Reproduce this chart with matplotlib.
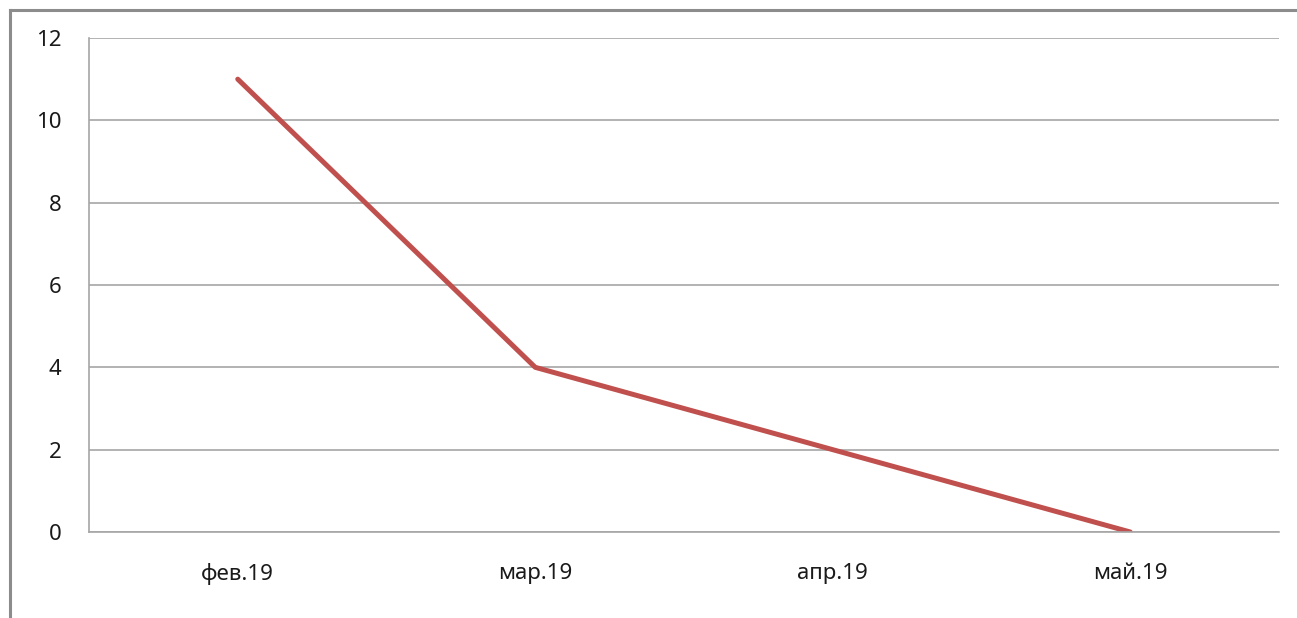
import matplotlib.pyplot as plt
from matplotlib.lines import Line2D

plt.rcParams['font.family'] = ['Noto Sans', 'DejaVu Sans']

# monthly values
months = ["фев.19", "мар.19", "апр.19", "май.19"]
values = [11, 4, 2, 0]
y_ticks = [0, 2, 4, 6, 8, 10, 12]

W, H = 1297, 618
fig = plt.figure(figsize=(W / 100, H / 100), dpi=100)
ax = fig.add_axes([89 / W, 86 / H, (1279 - 89) / W, (532 - 38) / H])

ax.plot(range(len(months)), values, color="#C0504D", lw=3.6, solid_capstyle="round")

ax.set_xlim(-0.5, len(months) - 0.5)
ax.set_ylim(0, 12)
ax.set_yticks(y_ticks)
ax.set_xticks(range(len(months)))
ax.set_xticklabels(months)
ax.yaxis.grid(True, color="#a6a6a6", lw=1.2)
ax.set_axisbelow(True)
ax.tick_params(length=0, labelsize=16, colors="#1a1a1a")
ax.tick_params(axis="y", pad=20)
ax.tick_params(axis="x", pad=22)

for side in ["top", "right"]:
    ax.spines[side].set_visible(False)
ax.spines["left"].set_color("#a6a6a6")
ax.spines["left"].set_linewidth(1.2)
ax.spines["bottom"].set_color("#a6a6a6")
ax.spines["bottom"].set_linewidth(1.2)

# outer frame of the chart box
fig.add_artist(Line2D([9.5 / W, 9.5 / W], [0, 1 - 9.5 / H], transform=fig.transFigure,
                      color="#8c8c8c", lw=2.2))
fig.add_artist(Line2D([9.5 / W, 1], [1 - 9.5 / H, 1 - 9.5 / H], transform=fig.transFigure,
                      color="#8c8c8c", lw=2.2))

fig.savefig("out.png", dpi=100)
